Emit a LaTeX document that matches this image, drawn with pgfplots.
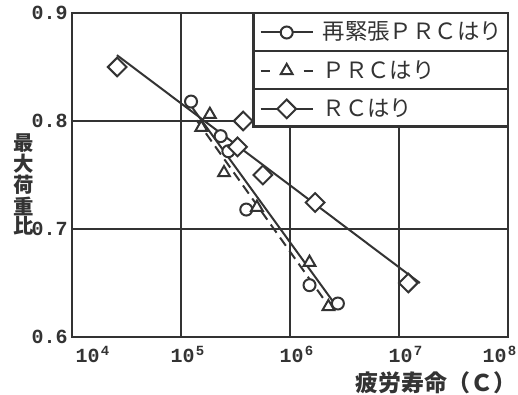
\documentclass[border=0pt]{standalone}
\usepackage{fontspec}
\setmainfont{Noto Sans CJK JP}
\newfontfamily\tickfont{Liberation Mono}
\usepackage{pgfplots}
\pgfplotsset{compat=1.18}
\definecolor{ink}{HTML}{333333}
\newcommand{\dec}[1]{10\kern0.6pt\textsuperscript{#1}}
\begin{document}
\begin{tikzpicture}
\begin{axis}[name=ax, scale only axis, width=218pt, height=162pt,
  xmode=log, xmin=1e4, xmax=1e8, ymin=0.6, ymax=0.9,
  xtick={1e4,1e5,1e6,1e7,1e8},
  xticklabels={\hspace*{21pt}\dec{4},\hspace*{7pt}\dec{5},\hspace*{7pt}\dec{6},\hspace*{7pt}\dec{7},\dec{8}\hspace*{8pt}},
  ytick={0.6,0.7,0.8,0.9}, yticklabels={0.6,0.7,0.8,0.9},
  major tick length=0pt, minor tick length=0pt,
  grid=major, grid style={ink, line width=1.1pt},
  axis line style={ink, line width=1.4pt},
  xticklabel style={font=\tickfont\bfseries\fontsize{10}{12}\selectfont, text=ink, yshift=-1pt},
  yticklabel style={font=\tickfont\bfseries\fontsize{10}{12}\selectfont, text=ink, xshift=1.3pt},
  xlabel={疲労寿命（Ｃ）},
  xlabel style={at={(rel axis cs:1,0)}, anchor=north east, yshift=-17pt, xshift=4.5pt, inner sep=0pt, font=\bfseries\fontsize{11.5}{14}\selectfont, text=ink},
  ylabel={最\\大\\荷\\重\\比},
  ylabel style={at={(rel axis cs:-0.11,0.472)}, anchor=center, rotate=-90, align=center, inner sep=0pt, font=\bfseries\fontsize{10.2}{9.4}\selectfont, text=ink},
  clip=false,
  legend style={at={(rel axis cs:0.4158,1)}, anchor=north west, xshift=3pt, draw=none, fill=none, inner sep=0pt, row sep=0pt, column sep=4.5pt, font=\fontsize{11.2}{13}\selectfont, text=ink, nodes={inner sep=0pt, minimum height=19.1pt}},
  legend cell align=left,
  legend image code/.code={\draw[mark repeat=2,mark phase=2,#1] plot coordinates {(0pt,0pt)(13pt,0pt)(26pt,0pt)};},
]
% legend box
\draw[ink, line width=1.4pt, fill=white] (rel axis cs:0.4158,1) rectangle (rel axis cs:1,0.649);
\draw[ink, line width=1.1pt] (rel axis cs:0.4158,0.8836) -- (rel axis cs:1,0.8836);
\draw[ink, line width=1.1pt] (rel axis cs:0.4158,0.7645) -- (rel axis cs:1,0.7645);

\addlegendimage{ink, line width=1pt, mark=*, mark size=3pt, mark options={solid, fill=white, line width=1pt}}
\addlegendentry{再緊張ＰＲＣはり}
\addlegendimage{ink, line width=1pt, dash pattern=on 4.5pt off 17pt, mark=triangle*, mark size=3.4pt, mark options={solid, fill=white, line width=1pt}}
\addlegendentry{ＰＲＣはり}
\addlegendimage{ink, line width=1pt, mark=square*, mark size=3.3pt, mark options={solid, rotate=45, fill=white, line width=1pt}}
\addlegendentry{ＲＣはり}

% regression lines
\addplot[ink, line width=1pt, forget plot] coordinates {(1.224e5,0.8146) (2.60e6,0.630)};
\addplot[ink, line width=1pt, dash pattern=on 5pt off 3pt, forget plot] coordinates {(1.39e5,0.8007) (2.29e6,0.628)};
\addplot[ink, line width=1pt, forget plot] coordinates {(2.58e4,0.861) (1.556e7,0.650)};

% 再緊張PRC
\addplot[only marks, ink, mark=*, mark size=3pt, mark options={fill=white, line width=1pt}, forget plot] coordinates {
(1.236e5,0.818) (2.31e5,0.786) (2.72e5,0.772) (3.97e5,0.718) (1.51e6,0.648) (2.75e6,0.631)};
% PRC
\addplot[only marks, ink, mark=triangle*, mark size=3.4pt, mark options={fill=white, line width=1pt}, forget plot] coordinates {
(1.84e5,0.806) (1.535e5,0.794) (2.48e5,0.752) (4.97e5,0.720) (1.51e6,0.669) (2.25e6,0.628)};
% RC
\addplot[only marks, ink, mark=square*, mark size=3.3pt, mark options={rotate=45, fill=white, line width=1pt}, forget plot] coordinates {
(2.60e4,0.850) (3.72e5,0.800) (3.30e5,0.776) (5.64e5,0.750) (1.70e6,0.7245) (1.216e7,0.650)};
\end{axis}
\pgfresetboundingbox
\path[use as bounding box] ([shift={(-36pt,-29pt)}]ax.south west) rectangle ([shift={(5pt,6.5pt)}]ax.north east);
\end{tikzpicture}
\end{document}
